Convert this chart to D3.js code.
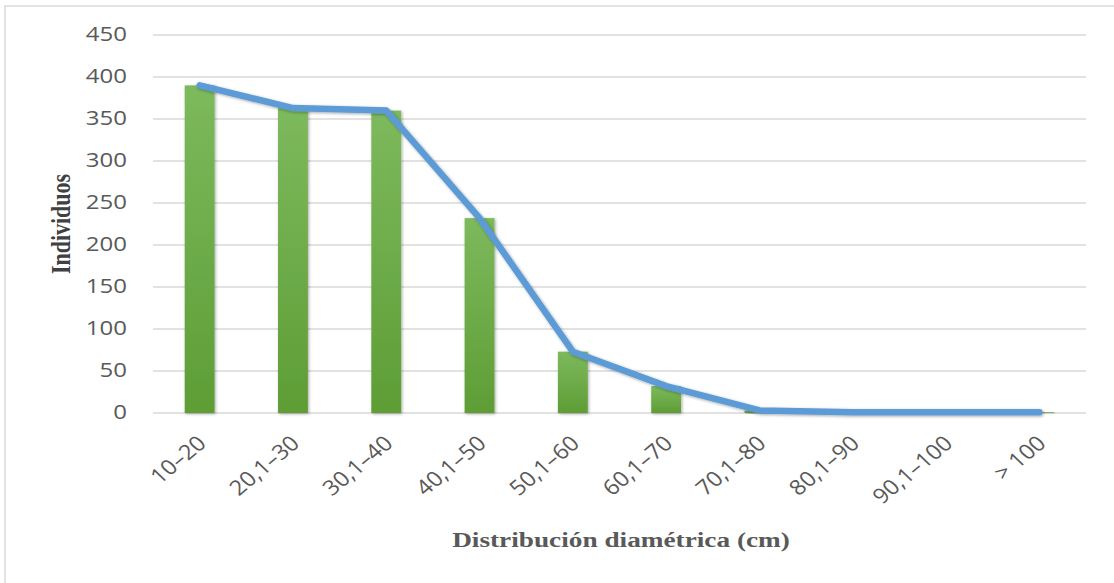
<!DOCTYPE html>
<html>
<head>
<meta charset="utf-8">
<script src="https://cdn.jsdelivr.net/npm/d3@7"></script>
<style>
  html, body { margin: 0; padding: 0; background: #fff; }
  svg { display: block; }
</style>
</head>
<body>
<svg id="chart" width="1114" height="583"></svg>
<script>
// Diameter classes (cm) and number of individuals per class
const categories = ["10–20", "20,1–30", "30,1–40", "40,1–50", "50,1–60",
                    "60,1–70", "70,1–80", "80,1–90", "90,1–100", "> 100"];
const individuals = [390, 363, 360, 232, 73, 32, 3, 1, 1, 1];
const yTicks = [0, 50, 100, 150, 200, 250, 300, 350, 400, 450];

const svg = d3.select("#chart");
const W = 1114, H = 583;
const plot = { left: 153, right: 1086, top: 35, bottom: 413 };
const stretch = 1.2;   // labels are set slightly wide
const sans = "'Open Sans', 'Liberation Sans', sans-serif";
const serif = "'Liberation Serif', 'Times New Roman', serif";

const defs = svg.append("defs");
const grad = defs.append("linearGradient")
  .attr("id", "barFill").attr("x1", 0).attr("y1", 0).attr("x2", 0).attr("y2", 1);
grad.append("stop").attr("offset", "0%").attr("stop-color", "#7db95d");
grad.append("stop").attr("offset", "100%").attr("stop-color", "#5e9d35");

const shadow = defs.append("filter").attr("id", "softShadow")
  .attr("x", "-30%").attr("y", "-10%").attr("width", "160%").attr("height", "130%");
shadow.append("feDropShadow").attr("dx", 1).attr("dy", 1)
  .attr("stdDeviation", 1.6).attr("flood-color", "#000").attr("flood-opacity", 0.35);

// outer chart frame
svg.append("rect")
  .attr("x", 5).attr("y", 6).attr("width", W + 10).attr("height", H + 10)
  .attr("fill", "#fff").attr("stroke", "#d9d9d9").attr("stroke-width", 1.5);

const x = d3.scaleBand().domain(categories)
  .range([plot.left, plot.right]).paddingInner(0.68).paddingOuter(0.34);
const y = d3.scaleLinear().domain([0, 450]).range([plot.bottom, plot.top]);

// horizontal gridlines
svg.append("g").selectAll("line").data(yTicks).join("line")
  .attr("x1", plot.left).attr("x2", plot.right)
  .attr("y1", d => y(d)).attr("y2", d => y(d))
  .attr("stroke", "#d9d9d9").attr("stroke-width", 1.6);

// y axis tick labels
const yAxis = svg.append("g")
  .call(d3.axisLeft(y).tickValues(yTicks).tickSize(0).tickPadding(0));
yAxis.select(".domain").remove();
yAxis.selectAll(".tick")
  .attr("transform", d => `translate(${plot.left - 26},${y(d)}) scale(${stretch},1)`);
yAxis.selectAll("text")
  .attr("fill", "#595959")
  .style("font-family", sans)
  .style("font-size", "20px");

// bars
svg.append("g").selectAll("rect").data(categories).join("rect")
  .attr("x", d => x(d))
  .attr("width", x.bandwidth())
  .attr("y", (d, i) => y(individuals[i]))
  .attr("height", (d, i) => y(0) - y(individuals[i]))
  .attr("fill", "url(#barFill)")
  .attr("filter", "url(#softShadow)");

// trend line over class centres
const line = d3.line()
  .x((d, i) => x(categories[i]) + x.bandwidth() / 2)
  .y(d => y(d));
svg.append("path")
  .datum(individuals)
  .attr("d", line)
  .attr("fill", "none")
  .attr("stroke", "#5b9bd5")
  .attr("stroke-width", 6.5)
  .attr("stroke-linejoin", "round")
  .attr("stroke-linecap", "round")
  .attr("filter", "url(#softShadow)");

// x axis category labels, rotated
const xAxis = svg.append("g")
  .attr("transform", `translate(0,${plot.bottom})`)
  .call(d3.axisBottom(x).tickSize(0).tickPadding(0));
xAxis.select(".domain").remove();
xAxis.selectAll("text")
  .attr("fill", "#595959")
  .style("font-family", sans)
  .style("font-size", "21px")
  .attr("text-anchor", "end")
  .attr("y", 0).attr("dy", 0)
  .attr("transform", `translate(8,32) scale(1.12,1) rotate(-43)`);

// axis titles
svg.append("text")
  .attr("transform", `translate(621,547) scale(1.24,1)`)
  .attr("text-anchor", "middle")
  .attr("fill", "#595959")
  .style("font-family", serif)
  .style("font-weight", "bold")
  .style("font-size", "22px")
  .text("Distribución diamétrica (cm)");

svg.append("text")
  .attr("transform", "translate(70,224) scale(1.2,1) rotate(-90)")
  .attr("text-anchor", "middle")
  .attr("fill", "#404040")
  .style("font-family", serif)
  .style("font-weight", "bold")
  .style("font-size", "22px")
  .text("Individuos");
</script>
</body>
</html>
